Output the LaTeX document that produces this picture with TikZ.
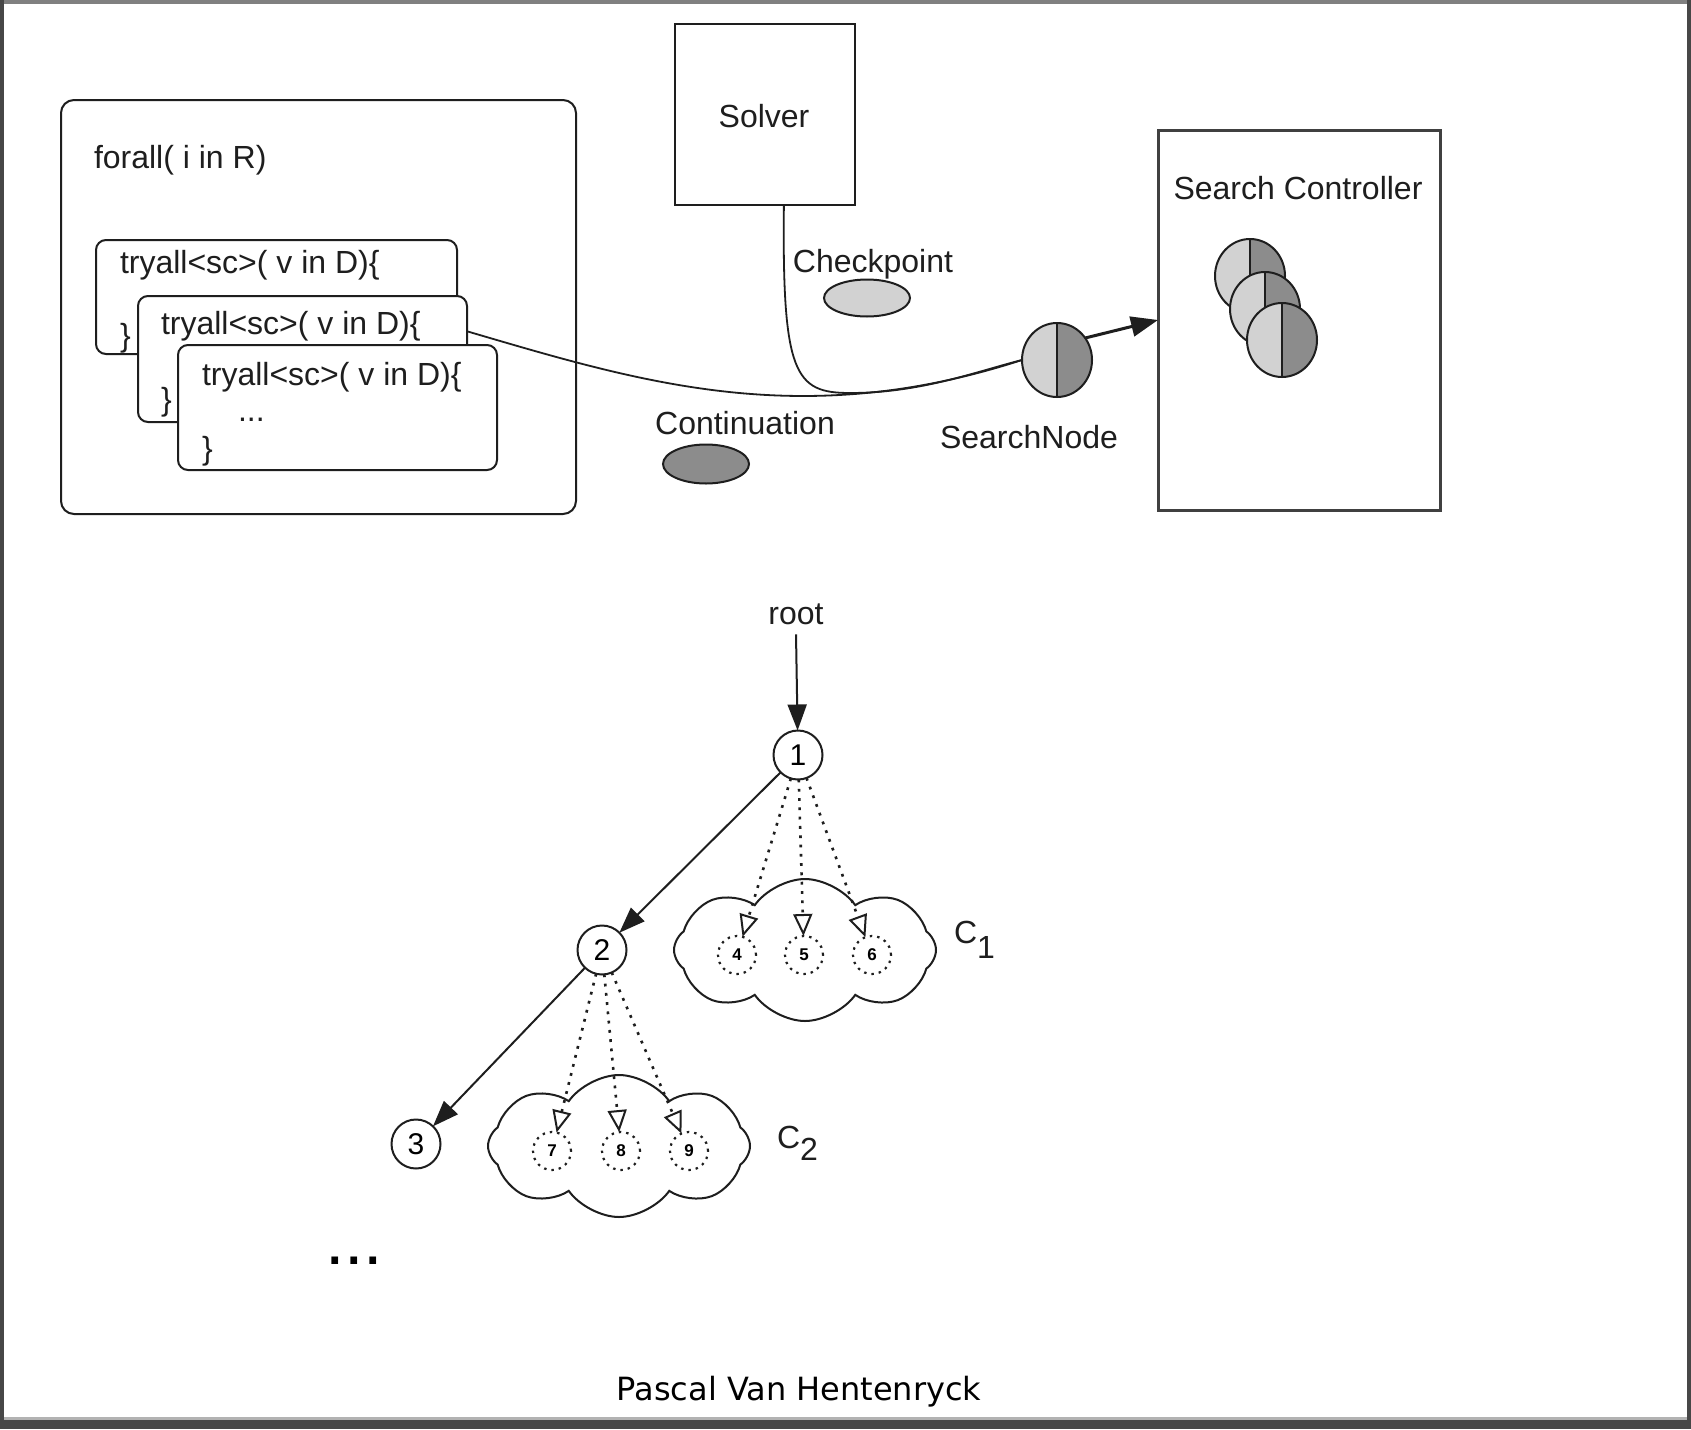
\documentclass[tikz,border=0pt]{standalone}
\usepackage{fontspec}
\setmainfont{Liberation Sans}
\newfontfamily\authorfont{DejaVu Sans}
\usetikzlibrary{arrows.meta,shapes.geometric,shapes.symbols,calc}
\definecolor{lightfill}{HTML}{D2D2D2}
\definecolor{darkfill}{HTML}{8C8C8C}
\definecolor{inkline}{HTML}{1E1E1E}

\begin{document}
\begin{tikzpicture}[x=1pt,y=-1pt,
  every node/.style={inner sep=0pt, outer sep=0pt},
  lbl/.style={font=\fontsize{32}{38}\selectfont, text=inkline},
  codebox/.style={draw=inkline, line width=2pt, rounded corners=10pt, fill=white, anchor=north west},
  plainbox/.style={draw=inkline, line width=2.4pt, anchor=north west},
  halfnode/.style={ellipse, draw=inkline, line width=2pt, minimum width=70pt, minimum height=74pt,
    fill=lightfill,
    path picture={
      \fill[darkfill] (path picture bounding box.north) rectangle (path picture bounding box.south east);
      \draw[inkline, line width=2pt] (path picture bounding box.north) -- (path picture bounding box.south);}},
  token/.style={ellipse, draw=inkline, line width=2pt, minimum width=86pt, minimum height=37pt},
  wire/.style={draw=inkline, line width=1.8pt},
  bigarrow/.style={draw=inkline, line width=3pt, -{Triangle[length=27pt, width=20pt]}},
  tnode/.style={circle, draw=inkline, line width=2pt, minimum size=49pt, fill=white,
    font=\fontsize{30}{36}\selectfont},
  cnode/.style={circle, draw=inkline, line width=2.2pt, minimum size=38pt,
    dash pattern=on 2.4pt off 5pt, font=\fontsize{17}{20}\selectfont\bfseries},
  solidarrow/.style={draw=inkline, line width=2pt, -{Triangle[length=26pt, width=19pt]}},
  dotarrow/.style={draw=inkline, line width=2.6pt, dash pattern=on 2.8pt off 6.5pt,
    -{Triangle[open, length=22pt, width=19pt, line width=2pt]}},
  puffy/.style={cloud, cloud puffs=8, cloud puff arc=110, aspect=1.9, draw=inkline, line width=2pt,
    minimum width=262pt, minimum height=142pt},
]
\useasboundingbox (0,0) rectangle (1691,1429);

% page frame with its drop shadow
\fill[white] (0,0) rectangle (1691,1429);
\fill[black!50] (0,0) rectangle (1691,4);
\fill[black!72] (0,0) rectangle (4,1429);
\fill[black!72] (1687,0) rectangle (1691,1429);
\fill[black!30] (4,1417) rectangle (1687,1420);
\fill[black!72] (0,1420) rectangle (1691,1429);

% the forall block with its stacked tryall bodies
\node[codebox, rounded corners=13pt, minimum width=515pt, minimum height=414pt] (forall) at (61,100) {};
\node[lbl, anchor=base west] (tforall) at (94,168) {forall( i in R)};

\node[codebox, minimum width=361pt, minimum height=114pt] (b1) at (96,240) {};
\node[lbl, anchor=base west] (t1) at (120,273) {tryall<sc>( v in D)\{};
\node[lbl, anchor=base west] (e1) at (120,346) {\}};

\node[codebox, minimum width=329pt, minimum height=126pt] (b2) at (138,296) {};
\node[lbl, anchor=base west] (t2) at (161,334) {tryall<sc>( v in D)\{};
\node[lbl, anchor=base west] (e2) at (161,410) {\}};

\node[codebox, minimum width=319pt, minimum height=125pt] (b3) at (178,345) {};
\node[lbl, anchor=base west] (t3) at (202,385) {tryall<sc>( v in D)\{};
\node[lbl, anchor=base west] (d3) at (238,421) {...};
\node[lbl, anchor=base west] (e3) at (202,459) {\}};

% solver and search controller
\node[plainbox, minimum width=180pt, minimum height=181pt] (solver) at (675,24) {};
\node[lbl, anchor=base] (tsolver) at (764,127) {Solver};

\node[plainbox, draw=black!75, line width=3pt, minimum width=282pt, minimum height=380pt] (ctrl) at (1158,130) {};
\node[lbl, anchor=base] (tctrl) at (1298,199) {Search Controller};

\node[halfnode] (sc1) at (1250,276) {};
\node[halfnode] (sc2) at (1265,309) {};
\node[halfnode] (sc3) at (1282,340) {};

% checkpoint, continuation and the search node built from them
\node[lbl, anchor=base] (tchk) at (873,272) {Checkpoint};
\node[token, fill=lightfill] (chk) at (867,298) {};
\node[lbl, anchor=base] (tcont) at (745,434) {Continuation};
\node[token, fill=darkfill, minimum height=39pt] (cont) at (706,464) {};

\node[halfnode] (sn) at (1057,360) {};
\node[lbl, anchor=base] (tsn) at (1029,448) {SearchNode};

\coordinate (cstart) at ($(b2.north east)!0.28!(b2.south east)$);
\coordinate (sout) at ($(solver.south west)!0.605!(solver.south east)$);
\draw[wire] (cstart) .. controls (640,382) and (800,432) .. (sn.west);
\draw[wire] (sout) .. controls (782,375) and (795,393) .. (850,393)
  .. controls (920,393) and (975,372) .. (sn.west);
\draw[bigarrow] (sn.38) -- (ctrl.west);

% search tree
\node[lbl, anchor=base] (root) at (796,624) {root};
\node[puffy] (cl1) at (805,950) {};
\node[puffy] (cl2) at (619,1146) {};
\node[tnode] (n1) at (798,755) {1};
\node[tnode] (n2) at (602,950) {2};
\node[tnode] (n3) at (416,1144) {3};
\node[cnode] (c4) at (737,955) {4};
\node[cnode] (c5) at (804,955) {5};
\node[cnode] (c6) at (872,955) {6};
\node[cnode] (c7) at (552,1151) {7};
\node[cnode] (c8) at (621,1151) {8};
\node[cnode] (c9) at (689,1151) {9};

\draw[solidarrow] ([yshift=-10pt]root.south) -- (n1);
\draw[solidarrow] (n1) -- (n2);
\draw[solidarrow] (n2) -- (n3);
\foreach \c in {c4,c5,c6} \draw[dotarrow] (n1) -- (\c);
\foreach \c in {c7,c8,c9} \draw[dotarrow] (n2) -- (\c);

\node[lbl, anchor=base west] (lc1) at (954,943) {C\raisebox{-15pt}{1}};
\node[lbl, anchor=base west] (lc2) at (777,1148) {C\raisebox{-12pt}{2}};

\node[font=\fontsize{70}{80}\selectfont, anchor=base west] (more) at (325,1264) {...};

\node[font=\authorfont\fontsize{32}{38}\selectfont, anchor=base] (author) at (799,1400) {Pascal Van Hentenryck};
\end{tikzpicture}
\end{document}
